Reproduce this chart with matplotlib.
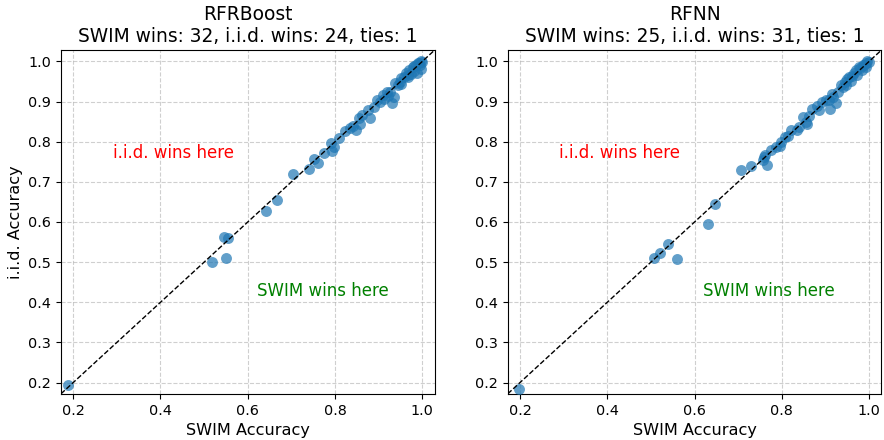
import matplotlib
matplotlib.use("Agg")
import matplotlib.pyplot as plt

# RFRBoost: (SWIM accuracy, i.i.d. accuracy)
rfr_swim = [0.189, 0.517, 0.551, 0.545, 0.555, 0.641, 0.666, 0.704, 0.740, 0.752,
            0.762, 0.774, 0.791, 0.793, 0.797, 0.809, 0.835, 0.847, 0.842, 0.854,
            0.858, 0.875, 0.880, 0.890, 0.902, 0.909, 0.912, 0.925, 0.930, 0.934,
            0.944, 0.949, 0.959, 0.966, 0.974, 0.978, 0.985, 0.993, 0.997, 1.000,
            0.988, 0.862, 0.895, 0.918, 0.938, 0.952, 0.962, 0.970, 0.982, 0.990,
            0.996, 0.822, 0.952, 0.968, 0.980, 0.994, 0.921]
rfr_iid = [0.195, 0.500, 0.511, 0.562, 0.561, 0.628, 0.655, 0.719, 0.733, 0.758,
           0.746, 0.771, 0.796, 0.776, 0.787, 0.808, 0.835, 0.829, 0.840, 0.858,
           0.845, 0.878, 0.859, 0.886, 0.899, 0.916, 0.907, 0.924, 0.896, 0.911,
           0.940, 0.948, 0.961, 0.965, 0.969, 0.986, 0.990, 0.996, 0.982, 0.998,
           0.970, 0.866, 0.905, 0.925, 0.945, 0.958, 0.972, 0.978, 0.988, 0.995,
           1.000, 0.826, 0.944, 0.960, 0.975, 0.990, 0.915]

# RFNN: (SWIM accuracy, i.i.d. accuracy)
rfnn_swim = [0.198, 0.508, 0.520, 0.539, 0.559, 0.630, 0.647, 0.707, 0.730, 0.760,
             0.766, 0.756, 0.761, 0.787, 0.798, 0.808, 0.815, 0.834, 0.848, 0.858,
             0.862, 0.870, 0.891, 0.902, 0.910, 0.923, 0.929, 0.940, 0.944, 0.955,
             0.961, 0.970, 0.972, 0.980, 0.989, 0.993, 1.000, 0.908, 0.775, 0.822,
             0.880, 0.915, 0.935, 0.950, 0.965, 0.976, 0.985, 0.996, 0.795, 0.840,
             0.855, 0.885, 0.918, 0.948, 0.958, 0.984, 0.992]
rfnn_iid = [0.184, 0.511, 0.522, 0.545, 0.508, 0.595, 0.646, 0.729, 0.739, 0.762,
            0.743, 0.755, 0.766, 0.786, 0.800, 0.812, 0.815, 0.829, 0.862, 0.845,
            0.865, 0.882, 0.899, 0.903, 0.882, 0.896, 0.924, 0.935, 0.949, 0.960,
            0.963, 0.978, 0.967, 0.983, 0.990, 0.995, 0.998, 0.905, 0.780, 0.828,
            0.888, 0.920, 0.940, 0.956, 0.972, 0.985, 0.992, 1.000, 0.790, 0.836,
            0.850, 0.880, 0.912, 0.942, 0.950, 0.978, 0.986]

titles = ["RFRBoost\nSWIM wins: 32, i.i.d. wins: 24, ties: 1",
          "RFNN\nSWIM wins: 25, i.i.d. wins: 31, ties: 1"]
lims = (0.172, 1.028)

fig, axes = plt.subplots(1, 2, figsize=(8.84, 4.40), dpi=100)
fig.subplots_adjust(left=0.069, right=0.997, top=0.886, bottom=0.105, wspace=0.196)

for ax, xs, ys, title, show_y in zip(axes, [rfr_swim, rfnn_swim], [rfr_iid, rfnn_iid],
                                     titles, [True, False]):
    ax.scatter(xs, ys, s=62, alpha=0.7, color="tab:blue", zorder=3, linewidths=0)
    ax.plot(lims, lims, "k--", lw=1, zorder=4)
    ax.set_xlim(lims)
    ax.set_ylim(lims)
    ax.grid(True, linestyle="--", alpha=0.6)
    ax.set_title(title, fontsize=13.4)
    ax.set_xlabel("SWIM Accuracy", fontsize=11.6)
    if show_y:
        ax.set_ylabel("i.i.d. Accuracy", fontsize=11.6)
    ax.tick_params(labelsize=10.4)
    ax.text(0.3, 0.7, "i.i.d. wins here", color="red", fontsize=12,
            ha="center", va="center", transform=ax.transAxes)
    ax.text(0.7, 0.3, "SWIM wins here", color="green", fontsize=12,
            ha="center", va="center", transform=ax.transAxes)

fig.savefig("out.png", dpi=100)
